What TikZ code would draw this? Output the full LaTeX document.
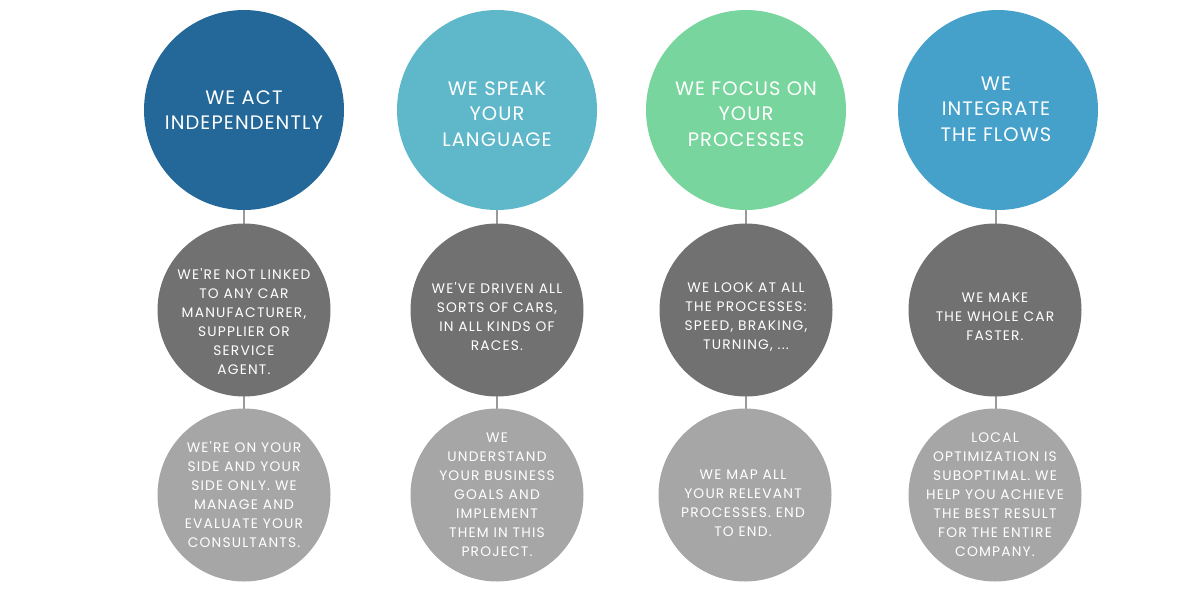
\documentclass[tikz,border=0pt]{standalone}
\usepackage{fontspec}
\setmainfont{Poppins}
\newfontfamily\headfont[LetterSpace=5.5,Ligatures=ResetAll]{Poppins}
\newfontfamily\bodyfont[LetterSpace=8.5,Ligatures=ResetAll]{Poppins}
\usepackage{xcolor}
\definecolor{actblue}{HTML}{236899}
\definecolor{speakcyan}{HTML}{5FB8CA}
\definecolor{focusgreen}{HTML}{78D59D}
\definecolor{flowblue}{HTML}{45A1CA}
\definecolor{midgrey}{HTML}{717171}
\definecolor{lowgrey}{HTML}{A6A6A6}
\definecolor{stemgrey}{HTML}{9A9A9A}
\begin{document}
\begin{tikzpicture}[x=1pt,y=-1pt,
  topdisc/.style={circle,minimum size=200pt,inner sep=0pt},
  middisc/.style={circle,fill=midgrey,minimum size=173pt,inner sep=0pt},
  lowdisc/.style={circle,fill=lowgrey,minimum size=173pt,inner sep=0pt},
  toptext/.style={text=white,align=center,font=\headfont\fontsize{19.5}{25.5}\selectfont},
  smalltext/.style={text=white,align=center,font=\bodyfont\fontsize{13.8}{19}\selectfont},
  stem/.style={draw=stemgrey,line width=1.5pt}]
  \useasboundingbox (0,0) rectangle (1200,600);
  % stems first, discs on top
  \coordinate (s1) at (244,110);
  \coordinate (s2) at (497,110);
  \coordinate (s3) at (746,110);
  \coordinate (s4) at (996,110);
  \coordinate (e1) at (244,495);
  \coordinate (e2) at (497,495);
  \coordinate (e3) at (746,495);
  \coordinate (e4) at (996,495);
  \draw[stem] (s1) to (e1);
  \draw[stem] (s2) to (e2);
  \draw[stem] (s3) to (e3);
  \draw[stem] (s4) to (e4);
  % top row
  \node[topdisc,fill=actblue] (act) at (244,110) {};
  \node[toptext] (acttext) at (244,110) {WE ACT\\INDEPENDENTLY};
  \node[topdisc,fill=speakcyan] (speak) at (497,110) {};
  \node[toptext] (speaktext) at (497,114) {WE SPEAK\\YOUR\\LANGUAGE};
  \node[topdisc,fill=focusgreen] (focus) at (746,110) {};
  \node[toptext] (focustext) at (746,114) {WE FOCUS ON\\YOUR\\PROCESSES};
  \node[topdisc,fill=flowblue] (flow) at (998,110) {};
  \node[toptext] (flowtext) at (996,109) {WE\\INTEGRATE\\THE FLOWS};
  % middle row
  \node[middisc] (actmid) at (244,310) {};
  \node[smalltext] (actmidtext) at (244,322) {WE'RE NOT LINKED\\TO ANY CAR\\MANUFACTURER,\\SUPPLIER OR\\SERVICE\\AGENT.};
  \node[middisc] (speakmid) at (497,310) {};
  \node[smalltext] (speakmidtext) at (497,317) {WE'VE DRIVEN ALL\\SORTS OF CARS,\\IN ALL KINDS OF\\RACES.};
  \node[middisc] (focusmid) at (746,310) {};
  \node[smalltext] (focusmidtext) at (746,317) {WE LOOK AT ALL\\THE PROCESSES:\\SPEED, BRAKING,\\TURNING, ...};
  \node[middisc] (flowmid) at (995,310) {};
  \node[smalltext] (flowmidtext) at (995,317) {WE MAKE\\THE WHOLE CAR\\FASTER.};
  % bottom row
  \node[lowdisc] (actlow) at (244,495) {};
  \node[smalltext] (actlowtext) at (244,495) {WE'RE ON YOUR\\SIDE AND YOUR\\SIDE ONLY. WE\\MANAGE AND\\EVALUATE YOUR\\CONSULTANTS.};
  \node[lowdisc] (speaklow) at (497,495) {};
  \node[smalltext] (speaklowtext) at (497,495) {WE\\UNDERSTAND\\YOUR BUSINESS\\GOALS AND\\IMPLEMENT\\THEM IN THIS\\PROJECT.};
  \node[lowdisc] (focuslow) at (745,495) {};
  \node[smalltext] (focuslowtext) at (743,503) {WE MAP ALL\\YOUR RELEVANT\\PROCESSES. END\\TO END.};
  \node[lowdisc] (flowlow) at (995,495) {};
  \node[smalltext] (flowlowtext) at (995,495) {LOCAL\\OPTIMIZATION IS\\SUBOPTIMAL. WE\\HELP YOU ACHIEVE\\THE BEST RESULT\\FOR THE ENTIRE\\COMPANY.};
\end{tikzpicture}
\end{document}
